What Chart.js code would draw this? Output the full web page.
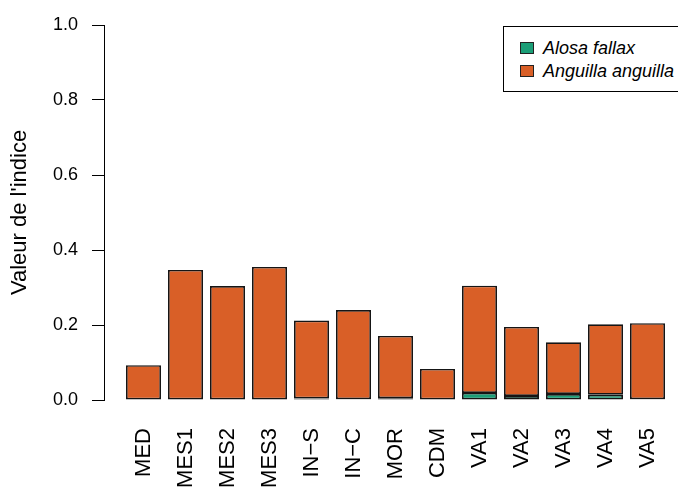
<!DOCTYPE html>
<html>
<head>
<meta charset="utf-8">
<script src="https://cdn.jsdelivr.net/npm/chart.js@4.4.1/dist/chart.umd.min.js"></script>
<style>
  html, body { margin: 0; padding: 0; background: #fff; overflow: hidden; }
  #wrap { position: relative; width: 678px; height: 487px; overflow: hidden; }
  #legend { position: absolute; left: 503px; top: 26px; width: 240px; height: 66px;
            border: 1px solid #000; box-sizing: border-box; background: #fff;
            font: italic 18px "Liberation Sans", Arial, sans-serif; color: #000; }
  .sw { position: absolute; left: 16px; width: 14px; height: 12px; border: 1px solid #222; box-sizing: border-box; }
  .lt { position: absolute; left: 39px; line-height: 18px; white-space: nowrap; }
</style>
</head>
<body>
<div id="wrap">
  <canvas id="c" width="678" height="487"></canvas>
  <div id="legend"></div>
</div>
<script>
// ---- data ----
const categories = ['MED', 'MES1', 'MES2', 'MES3', 'IN\u2212S', 'IN\u2212C', 'MOR', 'CDM', 'VA1', 'VA2', 'VA3', 'VA4', 'VA5'];
const alosaFallax     = [0, 0, 0, 0, 0.004, 0.002, 0.005, 0, 0.019, 0.011, 0.016, 0.014, 0.002];
const anguillaAnguilla = [0.093, 0.347, 0.304, 0.355, 0.208, 0.238, 0.166, 0.083, 0.286, 0.184, 0.138, 0.188, 0.203];
const yTicks = [0, 0.2, 0.4, 0.6, 0.8, 1.0];
const seriesNames = ['Alosa fallax', 'Anguilla anguilla'];
const seriesColors = ['#1B9E77', '#D95F27'];
const yTitle = "Valeur de l'indice";

// ---- legend (HTML) ----
const leg = document.getElementById('legend');
seriesNames.forEach((n, i) => {
  const sw = document.createElement('div');
  sw.className = 'sw'; sw.style.top = (15 + i * 23) + 'px'; sw.style.background = seriesColors[i];
  const t = document.createElement('div');
  t.className = 'lt'; t.style.top = (12 + i * 23) + 'px'; t.textContent = n;
  leg.appendChild(sw); leg.appendChild(t);
});

// ---- chart ----
const FONT = '"Liberation Sans", Arial, sans-serif';
Chart.defaults.font.family = FONT;
Chart.defaults.color = '#000';

const mk = (arr) => arr.map((v, i) => ({ x: i, y: v }));
const barOpts = { borderColor: '#151515', borderWidth: 1.7, borderSkipped: false,
                  categoryPercentage: 1, barPercentage: 35 / 42 };

new Chart(document.getElementById('c'), {
  type: 'bar',
  data: {
    datasets: [
      Object.assign({ label: seriesNames[0], data: mk(alosaFallax), backgroundColor: seriesColors[0] }, barOpts),
      Object.assign({ label: seriesNames[1], data: mk(anguillaAnguilla), backgroundColor: seriesColors[1] }, barOpts)
    ]
  },
  options: {
    responsive: false,
    animation: false,
    events: [],
    layout: { padding: { top: 25, right: 0, bottom: 0, left: 0 } },
    plugins: { legend: { display: false }, tooltip: { enabled: false } },
    scales: {
      x: {
        type: 'linear',
        offset: false,
        stacked: true,
        min: -0.9405,
        max: 12.726,
        afterBuildTicks: s => { s.ticks = categories.map((_, i) => ({ value: i })); },
        afterFit: s => { s.height = 87; s.paddingLeft = 0; s.paddingRight = 0; },
        grid: { display: false },
        border: { display: false },
        ticks: {
          autoSkip: false, minRotation: 90, maxRotation: 90, padding: 20,
          font: { size: 22 }, color: '#000',
          callback: v => categories[v]
        }
      },
      y: {
        stacked: true,
        min: 0, max: 1,
        afterBuildTicks: s => { s.ticks = yTicks.map(v => ({ value: v })); },
        afterFit: s => { s.width = 104; },
        border: { display: true, color: '#000', width: 1 },
        grid: { drawOnChartArea: false, color: '#000', tickLength: 12, lineWidth: 1 },
        ticks: { padding: 14, font: { size: 18 }, color: '#000', callback: v => v.toFixed(1) },
        title: { display: true, text: yTitle, font: { size: 22 }, color: '#000', padding: { top: 7, bottom: 0 } }
      }
    }
  }
});
</script>
</body>
</html>
